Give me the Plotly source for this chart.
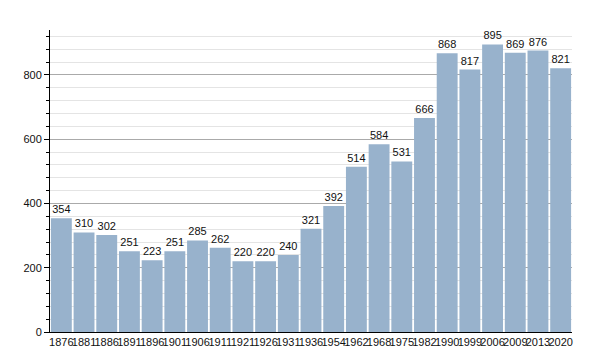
import plotly.graph_objects as go

years = ["1876","1881","1886","1891","1896","1901","1906","1911","1921","1926","1931","1936",
         "1954","1962","1968","1975","1982","1990","1999","2006","2009","2013","2020"]
population = [354,310,302,251,223,251,285,262,220,220,240,321,392,514,584,531,666,868,817,895,869,876,821]

fig = go.Figure(go.Bar(
    x=years, y=population, text=[str(v) for v in population],
    textposition="outside", cliponaxis=False,
    marker=dict(color="#98b2cc", line=dict(width=0)),
    textfont=dict(size=11, color="#111"),
))
fig.update_layout(
    width=600, height=350,
    margin=dict(l=50, r=28, t=30, b=18),
    plot_bgcolor="white", paper_bgcolor="white",
    font=dict(family="Liberation Sans, Arial, sans-serif", size=11, color="#111"),
    bargap=0.08, showlegend=False,
)
fig.update_xaxes(type="category", showline=True, linecolor="black", linewidth=1,
                 ticks="", tickfont=dict(size=11), tickangle=0, automargin=False)
fig.update_yaxes(range=[0, 940], dtick=200, showline=True, linecolor="black", linewidth=1,
                 ticks="outside", ticklen=5, tickcolor="black", automargin=False,
                 showgrid=True, gridcolor="#aaaaaa", gridwidth=1, zeroline=False,
                 minor=dict(dtick=40, showgrid=True, gridcolor="#e4e4e4", gridwidth=1,
                            ticks="outside", ticklen=3, tickcolor="black"))
fig.write_html("out.html")
